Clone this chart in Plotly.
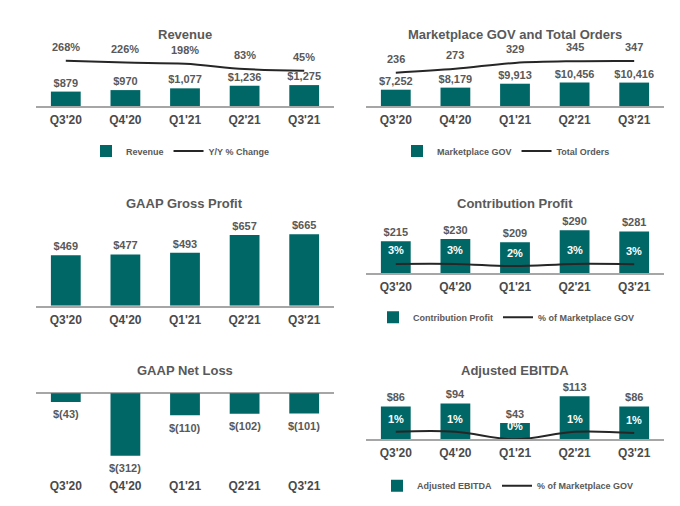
import plotly.graph_objects as go

# ---------------- data ----------------
quarters = ["Q3'20", "Q4'20", "Q1'21", "Q2'21", "Q3'21"]

revenue = [879, 970, 1077, 1236, 1275]
revenue_yoy = [268, 226, 198, 83, 45]

gov = [7252, 8179, 9913, 10456, 10416]
total_orders = [236, 273, 329, 345, 347]

gross_profit = [469, 477, 493, 657, 665]

contribution = [215, 230, 209, 290, 281]
contribution_pct = [3.0, 3.0, 2.3, 3.0, 2.9]
contribution_pct_labels = ["3%", "3%", "2%", "3%", "3%"]

net_loss = [-43, -312, -110, -102, -101]

ebitda = [86, 94, 43, 113, 86]
ebitda_pct = [1.2, 1.2, 0.0, 1.2, 1.0]
ebitda_pct_labels = ["1%", "1%", "0%", "1%", "1%"]

# ---------------- style ----------------
W, H = 680, 506
TEAL = "#006666"
LINE = "#262626"
GRAY = "#595959"
TICK = "#4a4a4a"
AXIS = "#a6a6a6"
FONT = "Liberation Sans, Arial, sans-serif"


def fx(px):
    return px / W


def fy(py):
    return 1 - py / H


# panel geometry in pixels: x0, x1, top, bottom
panels = {
    1: (36, 334, 40, 106),
    2: (366, 664, 40, 106),
    3: (36, 334, 220, 305.7),
    4: (366, 664, 215, 273.3),
    5: (36, 334, 388, 472.7),
    6: (366, 664, 385, 439.3),
}
prim_range = {
    1: [0, 66 * 61],
    2: [0, 66 * 445],
    3: [0, 85.7 * 9.3],
    4: [0, 58.3 * 6.72],
    5: [-(472.7 - 393.3) * 5.0, (393.3 - 388) * 5.0],
    6: [0, 54.3 * 2.62],
}
sec_range = {
    1: [-743, -743 + 66 * 22.3],
    2: [-80, -80 + 66 * 9.49],
    4: [0, 58.3 * 0.32],
    6: [0, 54.3 * 0.158],
}

fig = go.Figure()


def sfx(i):
    return "" if i == 1 else str(i)


def bar(i, y, text, name=None, legend=None, textpos="outside"):
    fig.add_trace(go.Bar(
        x=quarters, y=y, xaxis="x" + sfx(i), yaxis="y" + sfx(i),
        marker=dict(color=TEAL, line=dict(width=0)),
        text=text, textposition=textpos, constraintext="none",
        cliponaxis=False,
        textfont=dict(family=FONT, size=11, color=GRAY, weight="bold"),
        name=name or "", showlegend=legend is not None,
        legend=legend or "legend", hoverinfo="skip",
    ))


def line(i, y, name, legend):
    fig.add_trace(go.Scatter(
        x=quarters, y=y, xaxis="x" + sfx(i), yaxis="y" + str(i + 6),
        mode="lines", line=dict(color=LINE, width=2, shape="spline"),
        name=name, legend=legend, cliponaxis=False, hoverinfo="skip",
    ))


# Panel 1 - Revenue
bar(1, revenue, [f"${v:,}" for v in revenue], "Revenue", "legend")
line(1, revenue_yoy, "Y/Y % Change", "legend")
# Panel 2 - GOV
bar(2, gov, [f"${v:,}" for v in gov], "Marketplace GOV", "legend2")
line(2, total_orders, "Total Orders", "legend2")
# Panel 3 - Gross profit
bar(3, gross_profit, [f"${v}" for v in gross_profit])
# Panel 4 - Contribution
bar(4, contribution, [f"${v}" for v in contribution], "Contribution Profit", "legend3")
line(4, contribution_pct, "% of Marketplace GOV", "legend3")
# Panel 5 - Net loss (labels added as annotations below the bars)
bar(5, net_loss, None, textpos="none")
# Panel 6 - EBITDA
bar(6, ebitda, [f"${v}" for v in ebitda], "Adjusted EBITDA", "legend4")
line(6, ebitda_pct, "% of Marketplace GOV", "legend4")

layout = dict(
    width=W, height=H, margin=dict(l=0, r=0, t=0, b=0),
    paper_bgcolor="white", plot_bgcolor="white",
    bargap=0.5, showlegend=True,
    font=dict(family=FONT, color=GRAY),
)

for i, (x0, x1, top, bottom) in panels.items():
    s = sfx(i)
    layout["xaxis" + s] = dict(
        domain=[fx(x0), fx(x1)], anchor="y" + s,
        type="category", range=[-0.5, 4.5],
        showline=(i != 5), linecolor=AXIS, linewidth=1.5,
        showgrid=False, zeroline=False,
        ticks="outside", ticklen=2, tickcolor="rgba(0,0,0,0)",
        tickfont=dict(family=FONT, size=12, color=TICK, weight="bold"),
        fixedrange=True,
    )
    layout["yaxis" + s] = dict(
        domain=[fy(bottom), fy(top)], anchor="x" + s,
        range=prim_range[i], showgrid=False, showticklabels=False,
        ticks="", showline=False,
        zeroline=(i == 5), zerolinecolor=AXIS, zerolinewidth=1.5,
        fixedrange=True,
    )
    if i in sec_range:
        layout["yaxis" + str(i + 6)] = dict(
            overlaying="y" + s, anchor="x" + s, range=sec_range[i],
            visible=False, fixedrange=True,
        )

legend_font = dict(family=FONT, size=9, color=GRAY, weight="bold")
legend_pos = {
    "legend": (86, 151),
    "legend2": (397, 151),
    "legend3": (373, 317.3),
    "legend4": (377, 485.7),
}
for key, (lx, ly) in legend_pos.items():
    layout[key] = dict(
        orientation="h", x=fx(lx), y=fy(ly), xanchor="left", yanchor="middle",
        font=legend_font, bgcolor="rgba(0,0,0,0)", itemclick=False,
        itemdoubleclick=False,
    )

annotations = []
titles = {
    1: ("Revenue", 34.5),
    2: ("Marketplace GOV and Total Orders", 34.5),
    3: ("GAAP Gross Profit", 203.3),
    4: ("Contribution Profit", 203.3),
    5: ("GAAP Net Loss", 370.7),
    6: ("Adjusted EBITDA", 370.7),
}
for i, (t, ty) in titles.items():
    x0, x1, _, _ = panels[i]
    annotations.append(dict(
        text=t, xref="paper", yref="paper", x=fx((x0 + x1) / 2), y=fy(ty),
        showarrow=False, xanchor="center", yanchor="middle",
        font=dict(family=FONT, size=13, color=GRAY, weight="bold"),
    ))


def value_labels(xref, yref, vals, labels, color, shift):
    for q, v, lab in zip(quarters, vals, labels):
        annotations.append(dict(
            text=lab, xref=xref, yref=yref, x=q, y=v,
            showarrow=False, yshift=shift,
            font=dict(family=FONT, size=11, color=color, weight="bold"),
        ))


value_labels("x", "y7", revenue_yoy, [f"{v}%" for v in revenue_yoy], GRAY, 14)
value_labels("x2", "y8", total_orders, [f"{v}" for v in total_orders], GRAY, 14)
value_labels("x4", "y10", contribution_pct, contribution_pct_labels, "white", 13.5)
value_labels("x6", "y12", ebitda_pct, ebitda_pct_labels, "white", 13)
value_labels("x5", "y5", net_loss, [f"$({abs(v)})" for v in net_loss], GRAY, -12.5)

layout["annotations"] = annotations
fig.update_layout(**layout)

fig.write_html("out.html", config={"displayModeBar": False},
               post_script="document.body.style.margin='0';")
